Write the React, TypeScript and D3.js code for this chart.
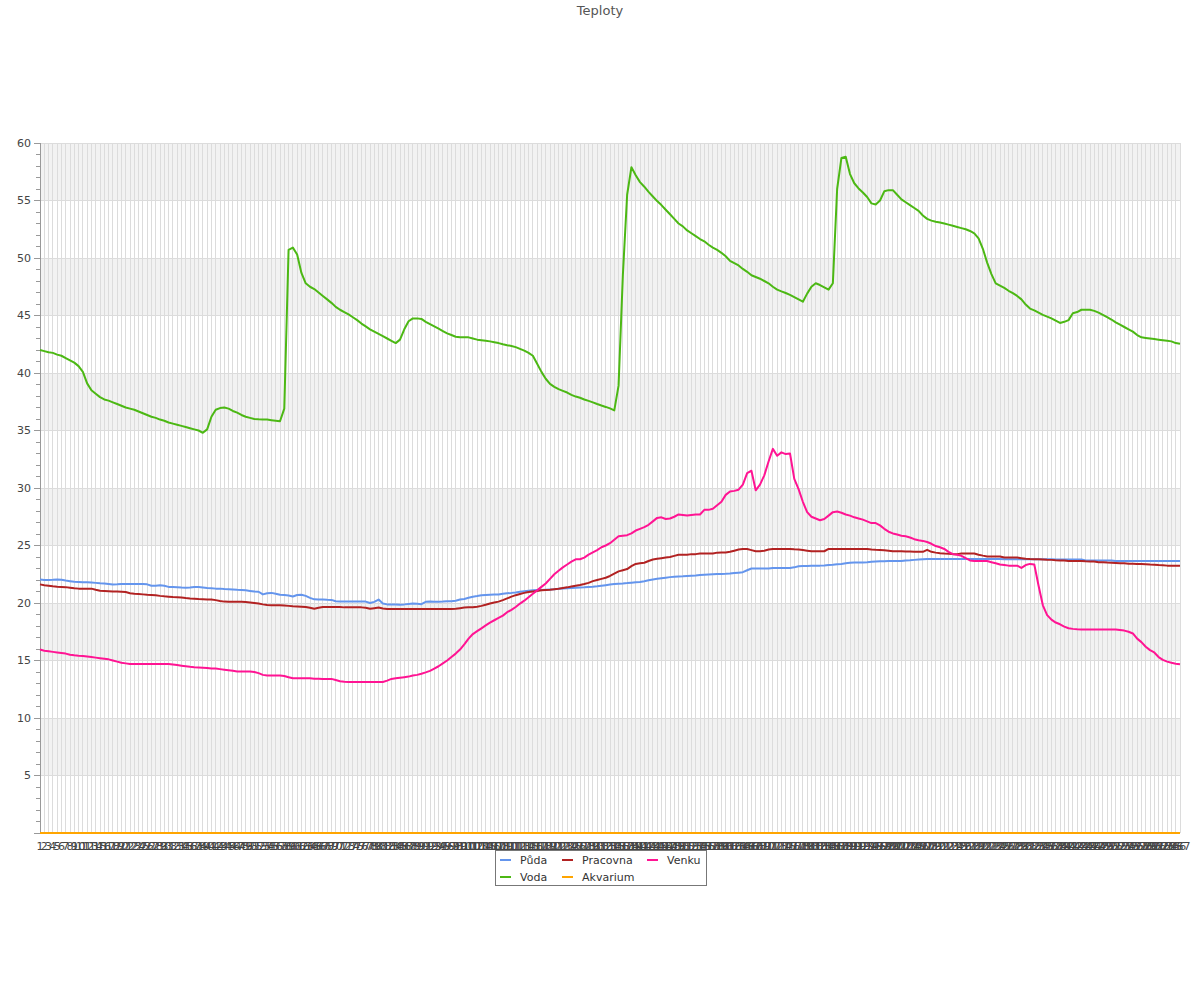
import React from "react";
import * as d3 from "d3";

const TITLE = "Teploty";
const CATEGORIES: string[] = d3.range(1, 268).map(String);
const Y_TICKS = [0, 5, 10, 15, 20, 25, 30, 35, 40, 45, 50, 55, 60];

const PUDA = [
  22.05, 22.0, 22.0, 22.02, 22.05, 22.02, 21.95, 21.9, 21.85, 21.83,
  21.8, 21.8, 21.78, 21.75, 21.72, 21.7, 21.65, 21.6, 21.62, 21.65,
  21.65, 21.65, 21.65, 21.65, 21.65, 21.62, 21.5, 21.5, 21.55, 21.5,
  21.4, 21.4, 21.38, 21.35, 21.33, 21.35, 21.4, 21.4, 21.35, 21.3,
  21.28, 21.25, 21.25, 21.22, 21.2, 21.18, 21.15, 21.13, 21.1, 21.05,
  21.0, 20.98, 20.75, 20.85, 20.88, 20.8, 20.72, 20.7, 20.65, 20.57,
  20.7, 20.72, 20.62, 20.45, 20.32, 20.3, 20.3, 20.28, 20.27, 20.15,
  20.12, 20.12, 20.12, 20.12, 20.12, 20.12, 20.12, 20.0, 20.1, 20.3,
  19.95, 19.88, 19.87, 19.86, 19.85, 19.88, 19.92, 19.95, 19.93, 19.9,
  20.1, 20.12, 20.1, 20.1, 20.12, 20.15, 20.15, 20.2, 20.3, 20.35,
  20.45, 20.55, 20.6, 20.68, 20.7, 20.72, 20.73, 20.73, 20.8, 20.85,
  20.88, 20.92, 20.98, 21.03, 21.07, 21.1, 21.12, 21.14, 21.16, 21.18,
  21.2, 21.23, 21.26, 21.29, 21.31, 21.33, 21.35, 21.37, 21.4, 21.42,
  21.45, 21.5, 21.55, 21.6, 21.65, 21.68, 21.7, 21.73, 21.77, 21.8,
  21.83, 21.9, 21.98, 22.05, 22.1, 22.15, 22.2, 22.25, 22.28, 22.3,
  22.32, 22.35, 22.38, 22.4, 22.43, 22.46, 22.48, 22.5, 22.52, 22.53,
  22.54, 22.56, 22.6, 22.64, 22.68, 22.85, 23.0, 23.0, 23.0, 23.0,
  23.0, 23.05, 23.05, 23.05, 23.05, 23.05, 23.1, 23.2, 23.22, 23.22,
  23.24, 23.25, 23.25, 23.27, 23.3, 23.33, 23.37, 23.4, 23.45, 23.5,
  23.52, 23.53, 23.53, 23.55, 23.58, 23.6, 23.62, 23.64, 23.65, 23.65,
  23.65, 23.66, 23.7, 23.72, 23.75, 23.78, 23.8, 23.82, 23.82, 23.82,
  23.82, 23.82, 23.82, 23.82, 23.82, 23.82, 23.82, 23.82, 23.82, 23.82,
  23.82, 23.82, 23.82, 23.82, 23.82, 23.8, 23.8, 23.8, 23.8, 23.8,
  23.8, 23.8, 23.8, 23.8, 23.8, 23.8, 23.8, 23.78, 23.78, 23.78,
  23.78, 23.78, 23.78, 23.78, 23.7, 23.7, 23.7, 23.7, 23.7, 23.7,
  23.7, 23.65, 23.65, 23.65, 23.65, 23.65, 23.65, 23.65, 23.65, 23.65,
  23.65, 23.65, 23.65, 23.65, 23.65, 23.65, 23.65,
];

const VODA = [
  42.0, 41.9, 41.8, 41.75, 41.6, 41.5, 41.3, 41.1, 40.9, 40.6,
  40.1, 39.1, 38.5, 38.2, 37.9, 37.7, 37.6, 37.45, 37.3, 37.15,
  37.0, 36.9, 36.8, 36.65, 36.5, 36.35, 36.2, 36.1, 35.95, 35.85,
  35.7, 35.6, 35.5, 35.4, 35.3, 35.2, 35.1, 35.0, 34.8, 35.1,
  36.2, 36.8, 36.95, 37.0, 36.9, 36.7, 36.55, 36.35, 36.2, 36.1,
  36.0, 35.97, 35.95, 35.95, 35.9, 35.85, 35.8, 36.9, 50.7, 50.9,
  50.3, 48.7, 47.8, 47.5, 47.3, 47.0, 46.7, 46.4, 46.1, 45.75,
  45.5, 45.3, 45.1, 44.85, 44.6, 44.3, 44.05, 43.8, 43.6, 43.4,
  43.2, 43.0, 42.8, 42.6, 42.9, 43.8, 44.5, 44.75, 44.75, 44.7,
  44.45, 44.25, 44.05, 43.85, 43.65, 43.45, 43.3, 43.15, 43.1, 43.1,
  43.1, 43.0, 42.9, 42.85, 42.8, 42.75, 42.68, 42.6, 42.5, 42.42,
  42.35, 42.25, 42.1, 41.95, 41.75, 41.5, 40.8, 40.1, 39.5, 39.05,
  38.8, 38.6, 38.45, 38.3, 38.1, 37.95, 37.85, 37.7, 37.58, 37.45,
  37.3, 37.17, 37.05, 36.92, 36.75, 38.9, 48.5, 55.5, 57.9, 57.2,
  56.6, 56.2, 55.75, 55.35, 54.95, 54.6, 54.2, 53.8, 53.4, 53.0,
  52.75, 52.4, 52.15, 51.9, 51.65, 51.45, 51.15, 50.9, 50.7, 50.45,
  50.15, 49.75, 49.55, 49.35, 49.05, 48.8, 48.5, 48.35, 48.2, 48.0,
  47.8, 47.5, 47.25, 47.1, 46.96, 46.8, 46.6, 46.4, 46.2, 46.9,
  47.5, 47.8, 47.65, 47.45, 47.25, 47.8, 56.0, 58.7, 58.8, 57.3,
  56.5, 56.05, 55.7, 55.3, 54.75, 54.65, 55.0, 55.8, 55.9, 55.9,
  55.5, 55.1, 54.85, 54.6, 54.35, 54.1, 53.7, 53.4, 53.25, 53.15,
  53.08, 53.0, 52.9, 52.8, 52.7, 52.6, 52.5, 52.35, 52.15, 51.7,
  50.8, 49.6, 48.6, 47.8, 47.6, 47.4, 47.15, 46.95, 46.7, 46.4,
  45.95, 45.6, 45.45, 45.25, 45.05, 44.9, 44.75, 44.55, 44.35, 44.45,
  44.6, 45.2, 45.3, 45.5, 45.5, 45.5, 45.4, 45.25, 45.05, 44.85,
  44.65, 44.4, 44.2, 44.0, 43.8, 43.6, 43.3, 43.1, 43.05, 43.0,
  42.95, 42.9, 42.85, 42.8, 42.75, 42.6, 42.55,
];

const PRACOVNA = [
  21.62, 21.55, 21.5, 21.45, 21.42, 21.4, 21.38, 21.33, 21.28, 21.25,
  21.25, 21.25, 21.25, 21.15, 21.07, 21.05, 21.03, 21.0, 21.0, 20.98,
  20.95, 20.85, 20.8, 20.78, 20.75, 20.72, 20.7, 20.68, 20.62, 20.58,
  20.55, 20.52, 20.5, 20.47, 20.43, 20.4, 20.38, 20.35, 20.33, 20.31,
  20.3, 20.25, 20.18, 20.12, 20.1, 20.1, 20.1, 20.1, 20.08, 20.05,
  20.0, 19.95, 19.88, 19.82, 19.8, 19.8, 19.8, 19.78, 19.75, 19.72,
  19.7, 19.68, 19.65, 19.58, 19.5, 19.58, 19.65, 19.66, 19.66, 19.66,
  19.66, 19.62, 19.62, 19.62, 19.62, 19.62, 19.58, 19.5, 19.55, 19.6,
  19.52, 19.48, 19.47, 19.47, 19.47, 19.47, 19.47, 19.47, 19.47, 19.47,
  19.47, 19.47, 19.47, 19.47, 19.47, 19.47, 19.47, 19.5, 19.55, 19.6,
  19.62, 19.63, 19.68, 19.75, 19.85, 19.95, 20.05, 20.12, 20.25, 20.4,
  20.55, 20.68, 20.78, 20.88, 20.95, 21.0, 21.05, 21.1, 21.13, 21.16,
  21.2, 21.24, 21.3, 21.36, 21.43, 21.5, 21.57, 21.65, 21.75, 21.9,
  22.0, 22.1, 22.2, 22.35, 22.55, 22.75, 22.85, 22.95, 23.2, 23.4,
  23.45, 23.5, 23.65, 23.78, 23.85, 23.9, 23.95, 24.0, 24.1, 24.2,
  24.2, 24.2, 24.25, 24.25, 24.3, 24.3, 24.3, 24.3, 24.38, 24.4,
  24.4, 24.45, 24.55, 24.65, 24.7, 24.7, 24.6, 24.5, 24.5, 24.55,
  24.65, 24.7, 24.7, 24.7, 24.7, 24.7, 24.67, 24.65, 24.6, 24.55,
  24.5, 24.5, 24.5, 24.5, 24.7, 24.7, 24.7, 24.7, 24.7, 24.7,
  24.7, 24.7, 24.7, 24.7, 24.65, 24.62, 24.6, 24.58, 24.55, 24.5,
  24.5, 24.5, 24.48, 24.47, 24.46, 24.45, 24.45, 24.62, 24.45, 24.38,
  24.33, 24.3, 24.28, 24.25, 24.25, 24.3, 24.3, 24.3, 24.3, 24.2,
  24.12, 24.05, 24.05, 24.05, 24.05, 23.95, 23.95, 23.95, 23.95, 23.9,
  23.85, 23.82, 23.8, 23.8, 23.78, 23.76, 23.75, 23.72, 23.7, 23.7,
  23.65, 23.65, 23.65, 23.65, 23.62, 23.6, 23.6, 23.55, 23.55, 23.52,
  23.5, 23.48, 23.45, 23.45, 23.42, 23.42, 23.4, 23.4, 23.38, 23.35,
  23.33, 23.3, 23.28, 23.25, 23.25, 23.25, 23.25,
];

const AKVARIUM = [
  0, 0, 0, 0, 0, 0, 0, 0, 0, 0, 0, 0, 0, 0, 0, 0, 0, 0, 0, 0,
  0, 0, 0, 0, 0, 0, 0, 0, 0, 0, 0, 0, 0, 0, 0, 0, 0, 0, 0, 0,
  0, 0, 0, 0, 0, 0, 0, 0, 0, 0, 0, 0, 0, 0, 0, 0, 0, 0, 0, 0,
  0, 0, 0, 0, 0, 0, 0, 0, 0, 0, 0, 0, 0, 0, 0, 0, 0, 0, 0, 0,
  0, 0, 0, 0, 0, 0, 0, 0, 0, 0, 0, 0, 0, 0, 0, 0, 0, 0, 0, 0,
  0, 0, 0, 0, 0, 0, 0, 0, 0, 0, 0, 0, 0, 0, 0, 0, 0, 0, 0, 0,
  0, 0, 0, 0, 0, 0, 0, 0, 0, 0, 0, 0, 0, 0, 0, 0, 0, 0, 0, 0,
  0, 0, 0, 0, 0, 0, 0, 0, 0, 0, 0, 0, 0, 0, 0, 0, 0, 0, 0, 0,
  0, 0, 0, 0, 0, 0, 0, 0, 0, 0, 0, 0, 0, 0, 0, 0, 0, 0, 0, 0,
  0, 0, 0, 0, 0, 0, 0, 0, 0, 0, 0, 0, 0, 0, 0, 0, 0, 0, 0, 0,
  0, 0, 0, 0, 0, 0, 0, 0, 0, 0, 0, 0, 0, 0, 0, 0, 0, 0, 0, 0,
  0, 0, 0, 0, 0, 0, 0, 0, 0, 0, 0, 0, 0, 0, 0, 0, 0, 0, 0, 0,
  0, 0, 0, 0, 0, 0, 0, 0, 0, 0, 0, 0, 0, 0, 0, 0, 0, 0, 0, 0,
  0, 0, 0, 0, 0, 0, 0,
];

const VENKU = [
  15.95, 15.85, 15.8, 15.75, 15.7, 15.65, 15.6, 15.5, 15.45, 15.42,
  15.4, 15.35, 15.3, 15.25, 15.2, 15.15, 15.1, 15.0, 14.9, 14.8,
  14.75, 14.7, 14.7, 14.7, 14.7, 14.7, 14.7, 14.7, 14.7, 14.7,
  14.7, 14.65, 14.6, 14.55, 14.5, 14.45, 14.42, 14.4, 14.38, 14.35,
  14.3, 14.3, 14.25, 14.2, 14.15, 14.1, 14.05, 14.05, 14.05, 14.05,
  14.0, 13.9, 13.75, 13.7, 13.7, 13.7, 13.7, 13.65, 13.55, 13.45,
  13.45, 13.45, 13.45, 13.45, 13.42, 13.42, 13.4, 13.4, 13.4, 13.3,
  13.2, 13.15, 13.13, 13.13, 13.13, 13.13, 13.13, 13.13, 13.13, 13.13,
  13.13, 13.25, 13.4, 13.45, 13.5, 13.55, 13.6, 13.7, 13.75, 13.85,
  13.97, 14.1, 14.3, 14.5, 14.75, 15.0, 15.3, 15.6, 15.95, 16.4,
  16.9, 17.3, 17.55, 17.8, 18.05, 18.3, 18.5, 18.7, 18.9, 19.2,
  19.4, 19.65, 19.95, 20.2, 20.5, 20.8, 21.1, 21.4, 21.7, 22.1,
  22.5, 22.8, 23.1, 23.35, 23.6, 23.8, 23.8, 23.95, 24.2, 24.4,
  24.6, 24.85, 25.0, 25.2, 25.5, 25.8, 25.85, 25.9, 26.05, 26.3,
  26.45, 26.6, 26.8, 27.1, 27.4, 27.45, 27.3, 27.35, 27.5, 27.7,
  27.65, 27.6, 27.65, 27.7, 27.7, 28.1, 28.1, 28.2, 28.5, 28.8,
  29.4, 29.7, 29.75, 29.85, 30.3, 31.3, 31.5, 29.8, 30.3, 31.1,
  32.3, 33.4, 32.8, 33.1, 32.95, 33.0, 30.8, 29.9, 28.8, 27.9,
  27.5, 27.35, 27.2, 27.3, 27.6, 27.9, 27.95, 27.85, 27.7, 27.6,
  27.45, 27.35, 27.25, 27.1, 26.95, 26.95, 26.75, 26.45, 26.2, 26.05,
  25.95, 25.85, 25.8, 25.7, 25.55, 25.45, 25.4, 25.3, 25.15, 24.95,
  24.85, 24.7, 24.45, 24.25, 24.2, 24.1, 23.9, 23.7, 23.65, 23.65,
  23.65, 23.65, 23.55, 23.45, 23.35, 23.3, 23.25, 23.25, 23.25, 23.05,
  23.3, 23.4, 23.35, 21.5, 19.8, 18.95, 18.55, 18.3, 18.15, 17.95,
  17.8, 17.75, 17.72, 17.7, 17.7, 17.7, 17.7, 17.7, 17.7, 17.7,
  17.7, 17.7, 17.65, 17.6, 17.5, 17.35, 16.9, 16.6, 16.2, 15.9,
  15.7, 15.3, 15.05, 14.9, 14.8, 14.72, 14.68,
];

const SERIES_NAMES = ["Půda", "Voda", "Pracovna", "Akvarium", "Venku"];
const SERIES_VALUES = [PUDA, VODA, PRACOVNA, AKVARIUM, VENKU];
const SERIES_COLORS = ["#6495ed", "#4cb814", "#b22222", "#ffa500", "#ff1493"];

const FONT = "'DejaVu Sans', Verdana, sans-serif";

export default function App() {
  const left = 40;
  const right = 1180;
  const top = 143;
  const bottom = 833;

  const x = d3.scalePoint<string>().domain(CATEGORIES).range([left, right]);
  const y = d3.scaleLinear().domain([0, 60]).range([bottom, top]);

  const line = d3
    .line<number>()
    .x((_, i) => x(CATEGORIES[i]) as number)
    .y((v) => y(v));

  const minorTicks = d3.range(0, 61, 1);
  const bands = Y_TICKS.filter((t) => t < 60 && (t / 5) % 2 === 1);

  // legend layout: column-major, 2 rows
  const legendCols = [500, 562, 647];
  const legendRows = [860, 877];

  return (
    <svg
      width={1200}
      height={1000}
      style={{ position: "absolute", left: 0, top: 0, background: "#fff" }}
      fontFamily={FONT}
    >
      <text x={600} y={15} textAnchor="middle" fontSize={13} fill="#555">
        {TITLE}
      </text>

      {/* bands */}
      {bands.map((t) => (
        <rect
          key={"b" + t}
          x={left}
          y={y(t + 5)}
          width={right - left}
          height={y(t) - y(t + 5)}
          fill="#f2f2f2"
        />
      ))}

      {/* vertical grid */}
      <g shapeRendering="crispEdges">
        {CATEGORIES.map((c) => (
          <line
            key={"v" + c}
            x1={x(c)}
            x2={x(c)}
            y1={top}
            y2={bottom}
            stroke="#dcdcdc"
            strokeWidth={1}
          />
        ))}
        {Y_TICKS.map((t) => (
          <line
            key={"h" + t}
            x1={left}
            x2={right}
            y1={y(t)}
            y2={y(t)}
            stroke="#dcdcdc"
            strokeWidth={1}
          />
        ))}
      </g>

      {/* y axis */}
      <g shapeRendering="crispEdges">
        <line x1={left} x2={left} y1={top} y2={bottom} stroke="#999" />
        {minorTicks.map((t) => (
          <line
            key={"t" + t}
            x1={t % 5 === 0 ? left - 6 : left - 4}
            x2={left}
            y1={y(t)}
            y2={y(t)}
            stroke="#999"
          />
        ))}
        <line x1={left} x2={right} y1={bottom} y2={bottom} stroke="#999" />
      </g>
      {Y_TICKS.filter((t) => t > 0).map((t) => (
        <text
          key={"yl" + t}
          x={left - 9}
          y={y(t)}
          dy="0.35em"
          textAnchor="end"
          fontSize={11}
          fill="#444"
        >
          {t}
        </text>
      ))}

      {/* x labels */}
      {CATEGORIES.map((c) => (
        <text
          key={"xl" + c}
          x={x(c)}
          y={850}
          textAnchor="middle"
          fontSize={11}
          fill="#444"
        >
          {c}
        </text>
      ))}

      {/* lines */}
      {SERIES_VALUES.map((vals, si) => (
        <path
          key={"s" + si}
          d={line(vals) || ""}
          fill="none"
          stroke={SERIES_COLORS[si]}
          strokeWidth={2}
          strokeLinejoin="round"
        />
      ))}

      {/* legend */}
      <rect
        x={495.5}
        y={850.5}
        width={211}
        height={35}
        fill="#fff"
        stroke="#777"
        strokeWidth={1}
      />
      {SERIES_NAMES.map((name, si) => {
        const col = Math.floor(si / 2);
        const row = si % 2;
        const lx = legendCols[col];
        const ly = legendRows[row];
        return (
          <g key={"lg" + si}>
            <line
              x1={lx}
              x2={lx + 11}
              y1={ly}
              y2={ly}
              stroke={SERIES_COLORS[si]}
              strokeWidth={2}
            />
            <text x={lx + 20} y={ly + 4} fontSize={11} fill="#333">
              {name}
            </text>
          </g>
        );
      })}
    </svg>
  );
}
